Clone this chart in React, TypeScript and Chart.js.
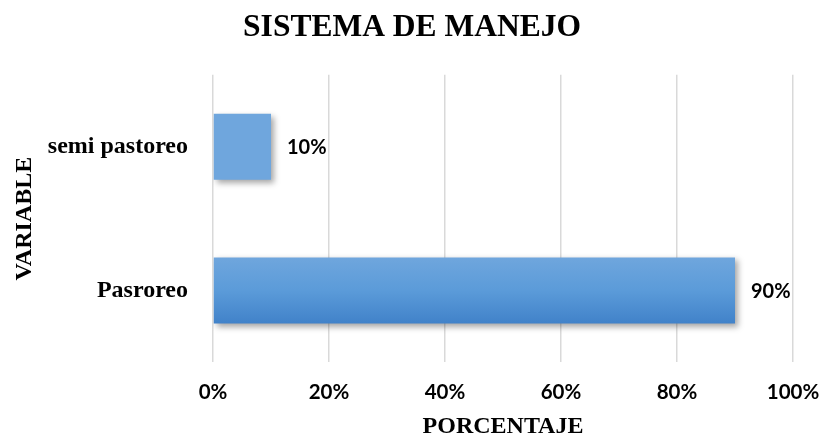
import React, { useEffect, useRef } from "react";
import { Chart, registerables } from "chart.js";

Chart.register(...registerables);

const categories = ["semi pastoreo", "Pasroreo"];
const values = [10, 90];
const xTicks = [0, 20, 40, 60, 80, 100];
const titleText = "SISTEMA DE MANEJO";
const xTitle = "PORCENTAJE";
const yTitle = "VARIABLE";

const SERIF = "'Liberation Serif', 'Times New Roman', serif";
const SANS = "Lato, 'Open Sans', sans-serif";

const barStyle = {
  id: "barStyle",
  beforeDatasetsDraw(chart: any) {
    const ctx = chart.ctx;
    const meta = chart.getDatasetMeta(0);
    meta.data.forEach((el: any) => {
      const top = el.y - el.height / 2;
      const bottom = el.y + el.height / 2;
      const g = ctx.createLinearGradient(0, top, 0, bottom);
      g.addColorStop(0, "#6fa6dd");
      g.addColorStop(0.5, "#5b9bd9");
      g.addColorStop(1, "#4182c9");
      el.options.backgroundColor = g;
    });
    ctx.save();
    ctx.shadowColor = "rgba(0,0,0,0.35)";
    ctx.shadowBlur = 6;
    ctx.shadowOffsetX = 3;
    ctx.shadowOffsetY = 3;
  },
  afterDatasetsDraw(chart: any) {
    const ctx = chart.ctx;
    ctx.restore();
    const meta = chart.getDatasetMeta(0);
    ctx.save();
    ctx.font = `bold 20px ${SANS}`;
    ctx.fillStyle = "#000";
    ctx.textAlign = "left";
    ctx.textBaseline = "middle";
    meta.data.forEach((el: any, i: number) => {
      ctx.fillText(values[i] + "%", el.x + 16, el.y + 1);
    });
    ctx.restore();
  },
};

export default function App() {
  const ref = useRef<HTMLCanvasElement>(null);
  useEffect(() => {
    document.body.style.margin = "0";
    const chart = new Chart(ref.current!, {
      type: "bar",
      data: {
        labels: categories,
        datasets: [
          {
            data: values,
            backgroundColor: "#5b9bd9",
            barPercentage: 0.46,
            categoryPercentage: 1,
          },
        ],
      },
      options: {
        indexAxis: "y",
        animation: false,
        responsive: false,
        layout: { padding: { top: 4, right: 12, left: 13, bottom: 0 } },
        plugins: {
          legend: { display: false },
          tooltip: { enabled: false },
          title: {
            display: true,
            text: titleText,
            color: "#000",
            font: { family: SERIF, size: 31.5, weight: "bold" },
            padding: { top: 5, bottom: 28 },
          },
        },
        scales: {
          x: {
            min: 0,
            max: 100,
            afterBuildTicks(axis: any) {
              axis.ticks = xTicks.map((v) => ({ value: v }));
            },
            afterFit(scale: any) {
              scale.paddingRight = 30;
            },
            ticks: {
              callback: (v: any) => v + "%",
              color: "#000",
              font: { family: SANS, size: 20.5, weight: "bold", lineHeight: 1.2 },
              padding: 0,
              maxRotation: 0,
            },
            grid: {
              color: "#d9d9d9",
              lineWidth: 1.5,
              drawTicks: true,
              tickLength: 18,
              tickColor: "rgba(0,0,0,0)",
            },
            border: { display: false },
            title: {
              display: true,
              text: xTitle,
              color: "#000",
              font: { family: SERIF, size: 24, weight: "bold", lineHeight: 1 },
              padding: { top: 10, bottom: 0 },
            },
          },
          y: {
            afterFit(scale: any) {
              scale.width = 200;
            },
            ticks: {
              color: "#000",
              font: { family: SERIF, size: 24, weight: "bold" },
              padding: 25,
            },
            grid: { display: false, drawTicks: false },
            border: { display: false },
            title: {
              display: true,
              text: yTitle,
              color: "#000",
              font: { family: SERIF, size: 24, weight: "bold", lineHeight: 1 },
              padding: { top: 0, bottom: 12 },
            },
          },
        },
      },
      plugins: [barStyle],
    });
    return () => chart.destroy();
  }, []);
  return (
    <canvas
      ref={ref}
      width={823}
      height={439}
      style={{ display: "block", width: 823, height: 439 }}
    />
  );
}
